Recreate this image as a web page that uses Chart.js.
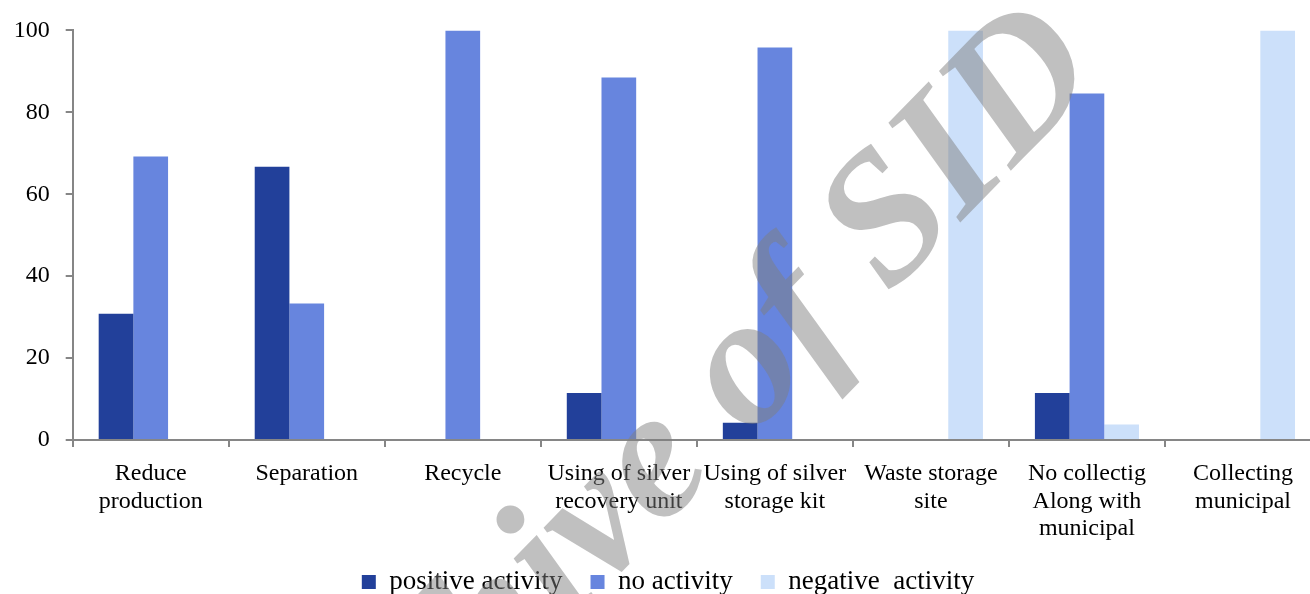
<!DOCTYPE html>
<html>
<head>
<meta charset="utf-8">
<script src="https://cdn.jsdelivr.net/npm/chart.js@4"></script>
<style>
  html, body { margin: 0; padding: 0; background: #fff; overflow: hidden; }
  #wrap { width: 1322px; height: 594px; position: relative; }
</style>
</head>
<body>
<div id="wrap"><canvas id="chart"></canvas></div>
<script>
// --- données ---
const categories = [
  ['Reduce', 'production'],
  'Separation',
  'Recycle',
  ['Using of silver', 'recovery unit'],
  ['Using of silver', 'storage kit'],
  ['Waste storage', 'site'],
  ['No collectig', 'Along with', 'municipal'],
  ['Collecting', 'municipal']
];
const seriesNames = ['positive activity', 'no activity', 'negative  activity'];
const positiveActivity = [30.8, 66.7, 0, 11.5, 4.2, 0, 11.5, 0];
const noActivity = [69.2, 33.3, 100, 88.5, 95.8, 0, 84.6, 0];
const negativeActivity = [0, 0, 0, 0, 0, 100, 3.8, 100];
const yTicks = [0, 20, 40, 60, 80, 100];

const axisColor = '#868686';
const serif = 'Liberation Serif, Times New Roman, serif';

// --- filigrane ---
const watermark = {
  id: 'watermark',
  afterDraw(chart) {
    const ctx = chart.ctx;
    ctx.save();
    ctx.translate(703, 486);
    ctx.rotate(-45.7 * Math.PI / 180);
    ctx.font = 'italic bold 185px ' + serif;
    ctx.fillStyle = 'rgba(127,127,127,0.49)';
    ctx.textAlign = 'center';
    ctx.textBaseline = 'alphabetic';
    ctx.fillText('Archive of SID', 0, 0);
    ctx.restore();
  }
};

new Chart(document.getElementById('chart'), {
  type: 'bar',
  data: {
    labels: categories,
    datasets: [
      { label: seriesNames[0], data: positiveActivity, backgroundColor: '#22409A' },
      { label: seriesNames[1], data: noActivity, backgroundColor: '#6785DE' },
      { label: seriesNames[2], data: negativeActivity, backgroundColor: '#CCE0FA' }
    ]
  },
  options: {
    responsive: true,
    maintainAspectRatio: false,
    animation: false,
    layout: { padding: { top: 29, right: 1, left: 15, bottom: -11.5 } },
    datasets: { bar: { categoryPercentage: 0.667, barPercentage: 1, borderWidth: 0 } },
    plugins: {
      legend: {
        position: 'bottom',
        labels: {
          color: '#000',
          font: { family: serif, size: 27 },
          boxWidth: 14,
          boxHeight: 14,
          padding: 28
        }
      },
      tooltip: { enabled: false }
    },
    scales: {
      x: {
        afterFit: s => { s.height = 100.5; },
        grid: { offset: true, drawOnChartArea: false, tickLength: 7, color: axisColor, lineWidth: 2 },
        border: { color: axisColor, width: 2 },
        ticks: { color: '#000', font: { family: serif, size: 24, lineHeight: 1.15 }, padding: 13, maxRotation: 0, autoSkip: false }
      },
      y: {
        min: 0,
        max: 100,
        afterFit: s => { s.width = 57.7; },
        afterBuildTicks: s => { s.ticks = yTicks.map(v => ({ value: v })); },
        grid: { drawOnChartArea: false, tickLength: 7, color: axisColor, lineWidth: 2 },
        border: { color: axisColor, width: 2 },
        ticks: { color: '#000', font: { family: serif, size: 24 }, padding: 16 }
      }
    }
  },
  plugins: [watermark]
});
</script>
</body>
</html>
